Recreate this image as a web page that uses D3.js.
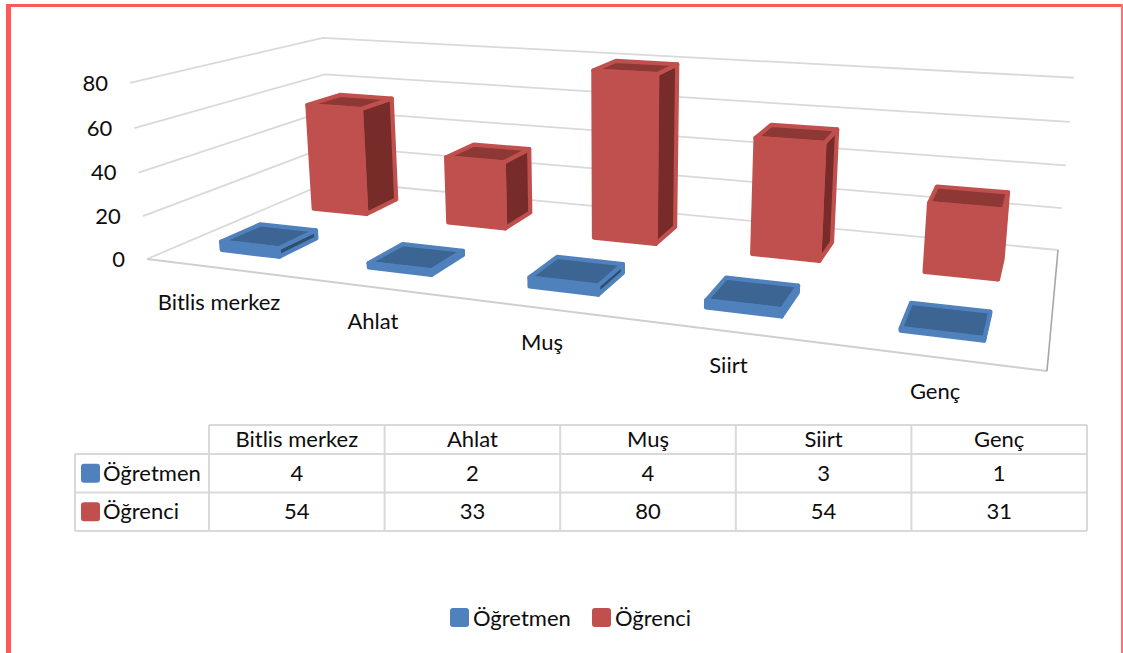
<!DOCTYPE html>
<html><head><meta charset="utf-8">
<script src="https://cdn.jsdelivr.net/npm/d3@7/dist/d3.min.js"></script>
<style>html,body{margin:0;padding:0;background:#fff;overflow:hidden}svg{display:block}text{font-family:Lato,"Noto Sans",sans-serif;fill:#0d0d0d}</style>
</head><body><svg id="c" width="1123" height="653"></svg>
<script>
const categories = ["Bitlis merkez","Ahlat","Muş","Siirt","Genç"];
const seriesNames = ["Öğretmen","Öğrenci"];
const ogretmen = [4,2,4,3,1];
const ogrenci = [54,33,80,54,31];
const valueTicks = [0,20,40,60,80];
const seriesValues = [ogretmen, ogrenci];
const baseColors = ["#4F81BD","#C0504D"];
const topColors = ["#3D6594","#8E3836"];
const sideColors = ["#2F4E72","#772C2A"];

const W=1123,H=653,FS=22;
const svg=d3.select("#c");
// frame
svg.append("rect").attr("x",6).attr("y",4).attr("width",5).attr("height",H-4).attr("fill","#FF5858");
svg.append("rect").attr("x",6).attr("y",4).attr("width",1117).attr("height",3).attr("fill","#FF5858");
svg.append("rect").attr("x",1121).attr("y",4).attr("width",2).attr("height",H-4).attr("fill","#FF7070");

function quad(p){
  const [[x0,y0],[x1,y1],[x2,y2],[x3,y3]]=p;
  const dx1=x1-x2,dx2=x3-x2,sx=x0-x1+x2-x3,dy1=y1-y2,dy2=y3-y2,sy=y0-y1+y2-y3;
  const den=dx1*dy2-dx2*dy1,g=(sx*dy2-dx2*sy)/den,h=(dx1*sy-sx*dy1)/den;
  const a=x1-x0+g*x1,b=x3-x0+h*x3,d=y1-y0+g*y1,e=y3-y0+h*y3;
  return (u,w)=>{const q=g*u+h*w+1;return [(a*u+b*w+x0)/q,(d*u+e*w+y0)/q,q];};
}
const floor=quad([[147,259],[1047,371],[1058,250],[331,181]]);
const vanish=[612,5072], lift=-0.0353;
const vScale=d3.scaleLinear().domain([0,80]).range([0,lift]);
function P(u,w,v){const a=floor(u,w),r=vScale(v)/a[2];return [(a[0]+r*vanish[0])/(1+r),(a[1]+r*vanish[1])/(1+r)];}
const uScale=d3.scaleBand().domain(categories).range([0,1]).paddingInner(0.6).paddingOuter(0.3);
const wScale=d3.scaleBand().domain(seriesNames).range([0,1]).paddingInner(0.6).paddingOuter(0.3);
const line=d3.line();
// grid
const grid=svg.append("g").attr("fill","none").attr("stroke","#D9D9D9").attr("stroke-width",1.8);
valueTicks.forEach(v=>grid.append("path").attr("d",line([P(0,0,v),P(0,1,v),P(1,1,v)])));
svg.append("path").attr("d",line([P(0,0,0),P(1,0,0)])).attr("stroke","#CFCFCF").attr("stroke-width",2).attr("fill","none");
svg.append("path").attr("d",line([P(1,0,0),P(1,1,0)])).attr("stroke","#A6A6A6").attr("stroke-width",1.6).attr("fill","none");
// value labels
svg.append("g").selectAll("text").data(valueTicks).join("text")
 .attr("x",v=>P(0,0,v)[0]-22).attr("y",v=>P(0,0,v)[1]).attr("dy","0.35em").attr("text-anchor","end").attr("font-size",FS).text(d=>d);
// bars
function bars(si){
  const g=svg.append("g").attr("stroke",baseColors[si]).attr("stroke-width",4.2).attr("stroke-linejoin","round");
  const s=seriesNames[si],w0=wScale(s),w1=w0+wScale.bandwidth();
  categories.forEach((c,i)=>{
    const u0=uScale(c),u1=u0+uScale.bandwidth(),v=seriesValues[si][i];
    const face=(pts,fill)=>g.append("path").attr("d",line(pts)+"Z").attr("fill",fill);
    face([P(u1,w0,0),P(u1,w1,0),P(u1,w1,v),P(u1,w0,v)],sideColors[si]);
    face([P(u0,w0,v),P(u1,w0,v),P(u1,w1,v),P(u0,w1,v)],topColors[si]);
    face([P(u0,w0,0),P(u1,w0,0),P(u1,w0,v),P(u0,w0,v)],baseColors[si]);
  });
}
bars(1);bars(0);
// category labels
const labelDrop=34;
const front=c=>P(uScale(c)+uScale.bandwidth()/2,0,0);
svg.append("g").selectAll("text").data(categories).join("text")
 .attr("x",c=>front(c)[0]).attr("y",c=>front(c)[1]+labelDrop)
 .attr("dy","0.35em").attr("text-anchor","middle").attr("font-size",FS).text(d=>d);
// data table
const colX=d3.scaleBand().domain(categories).range([209,1087]);
const rowEdges=[425,454,492.5,531];
const rowKeys=["h",...seriesNames];
const rowTop=r=>rowEdges[rowKeys.indexOf(r)];
const ry=r=>(rowTop(r)+rowEdges[rowKeys.indexOf(r)+1])/2;
const tg=svg.append("g").attr("stroke","#D9D9D9").attr("stroke-width",2).attr("fill","none");
tg.append("path").attr("d",`M209 425H1087`);
rowEdges.slice(1).forEach(y=>tg.append("path").attr("d",`M75 ${y}H1087`));
tg.append("path").attr("d",`M75 454V531`);
categories.forEach(c=>tg.append("path").attr("d",`M${colX(c)} 425V531`));
tg.append("path").attr("d",`M1087 425V531`);
const cx=c=>colX(c)+colX.bandwidth()/2;
categories.forEach((c,i)=>{
  svg.append("text").attr("x",cx(c)).attr("y",ry("h")).attr("dy","0.35em").attr("text-anchor","middle").attr("font-size",FS).text(c);
  seriesNames.forEach((s,si)=>svg.append("text").attr("x",cx(c)).attr("y",ry(s)).attr("dy","0.35em").attr("text-anchor","middle").attr("font-size",FS).text(seriesValues[si][i]));
});
seriesNames.forEach((s,si)=>{
  svg.append("rect").attr("x",81).attr("y",ry(s)-9.5).attr("width",19).attr("height",19).attr("rx",3).attr("fill",baseColors[si]);
  svg.append("text").attr("x",103).attr("y",ry(s)).attr("dy","0.35em").attr("font-size",FS).text(s);
});
// legend
const legendX=d3.scaleOrdinal().domain(seriesNames).range([450,592]);
seriesNames.forEach((s,si)=>{
  svg.append("rect").attr("x",legendX(s)).attr("y",608).attr("width",19).attr("height",19).attr("rx",3).attr("fill",baseColors[si]);
  svg.append("text").attr("x",legendX(s)+23).attr("y",618).attr("dy","0.35em").attr("font-size",FS).text(s);
});
</script></body></html>
